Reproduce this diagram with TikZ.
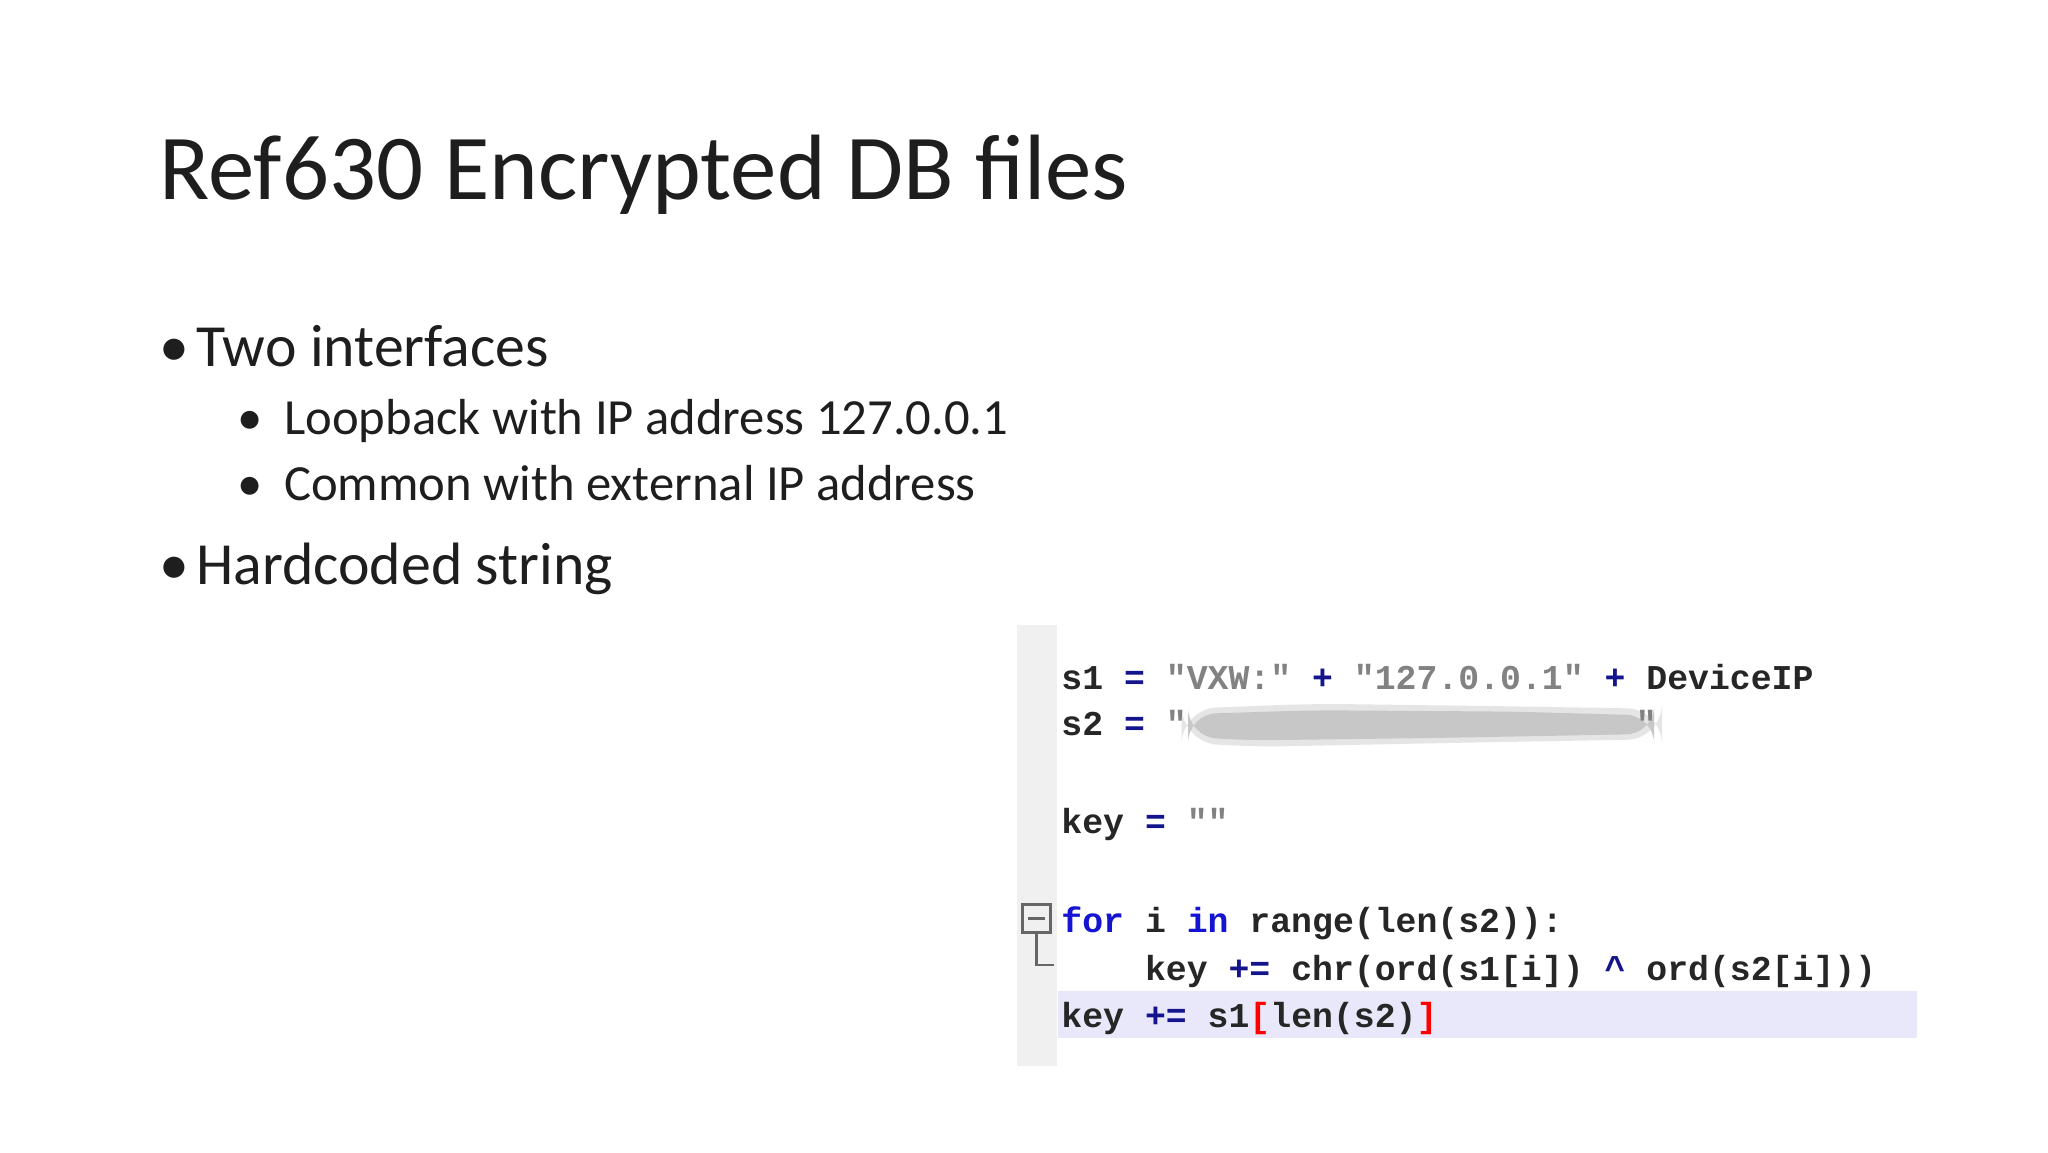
\documentclass[tikz,border=0pt]{standalone}
\usepackage{fontspec}
\setmainfont{Carlito}
\newfontfamily\codefont{Liberation Mono}
\definecolor{op}{RGB}{20,20,140}
\definecolor{str}{RGB}{130,130,130}
\definecolor{kw}{RGB}{20,20,210}
\definecolor{gut}{RGB}{240,240,240}
\definecolor{hl}{RGB}{232,232,250}
\definecolor{txt}{RGB}{30,30,30}
\begin{document}
\begin{tikzpicture}[x=0.013128cm,y=-0.013128cm,
  titlestyle/.style={anchor=base west,inner sep=0,font=\fontsize{26.4}{30}\selectfont,text=txt},
  lvlone/.style={anchor=base west,inner sep=0,font=\fontsize{17}{19}\selectfont,text=txt},
  lvltwo/.style={anchor=base west,inner sep=0,font=\fontsize{14.4}{16}\selectfont,text=txt},
  codeline/.style={anchor=base west,inner sep=0,font=\codefont\bfseries\fontsize{9.9}{12}\selectfont,text=black!85}]
\useasboundingbox[fill=white] (0,0) rectangle (1560,877.5);
\node[titlestyle] (title) at (121,152) {Ref630 Encrypted DB files};
\node[lvlone] (b1) at (121,279) {•};
\node[lvlone] (t1) at (149,279) {Two interfaces};
\node[lvltwo] (b2) at (180,331) {•};
\node[lvltwo] (t2) at (216,331) {Loopback with IP address 127.0.0.1};
\node[lvltwo] (b3) at (180,381) {•};
\node[lvltwo] (t3) at (216,381) {Common with external IP address};
\node[lvlone] (b4) at (121,445) {•};
\node[lvlone] (t4) at (149,445) {Hardcoded string};
% code panel
\fill[gut] (775,476) rectangle (805,812);
\fill[hl] (806,755) rectangle (1460,791);
\draw[black!60,line width=0.8pt] (779,689) rectangle (800,710);
\draw[black!60,line width=0.8pt] (783,699.5) -- (796,699.5);
\draw[black!60,line width=0.8pt] (789.5,710) -- (789.5,735) -- (803,735);
\fill[black!10,rounded corners=10pt] (900,540) -- (1000,536) -- (1150,538) -- (1266,540) -- (1266,563) -- (1100,566) -- (950,569) -- (900,565) -- cycle;
\fill[black!22,rounded corners=8pt] (905,544) -- (1000,541) -- (1150,542) -- (1260,545) -- (1260,559) -- (1100,562) -- (950,564) -- (905,561) -- cycle;
\node[codeline] (c1) at (808,525) {s1 \textcolor{op}{=} \textcolor{str}{"VXW:"} \textcolor{op}{+} \textcolor{str}{"127.0.0.1"} \textcolor{op}{+} DeviceIP};
\node[codeline] (c2) at (808,560) {s2 \textcolor{op}{=} \textcolor{str}{"}\hspace{12.9em}\textcolor{str}{"}};
\node[codeline] (c3) at (808,635) {key \textcolor{op}{=} \textcolor{str}{""}};
\node[codeline] (c4) at (808,710) {\textcolor{kw}{for} i \textcolor{kw}{in} range(len(s2)):};
\node[codeline] (c5) at (808,747) {\ \ \ \ key \textcolor{op}{+=} chr(ord(s1[i]) \textcolor{op}{\^{}} ord(s2[i]))};
\node[codeline] (c6) at (808,783) {key \textcolor{op}{+=} s1\textcolor{red}{[}len(s2)\textcolor{red}{]}};
\end{tikzpicture}
\end{document}
